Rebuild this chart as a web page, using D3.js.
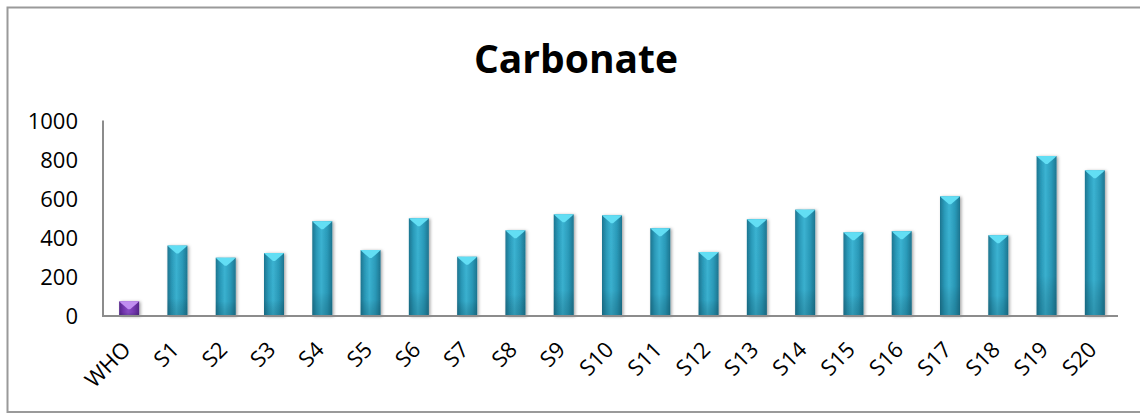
<!DOCTYPE html>
<html>
<head>
<meta charset="utf-8">
<script src="https://cdn.jsdelivr.net/npm/d3@7"></script>
<style>
  html, body { margin: 0; padding: 0; background: #fff; }
  svg { display: block; }
</style>
</head>
<body>
<svg id="chart" width="1140" height="414"></svg>
<script>
// Carbonate concentration per sample, with the WHO guideline value first
const categories = ["WHO", "S1", "S2", "S3", "S4", "S5", "S6", "S7", "S8", "S9", "S10",
  "S11", "S12", "S13", "S14", "S15", "S16", "S17", "S18", "S19", "S20"];
const values = [75, 360, 298, 322, 485, 337, 500, 303, 438, 520, 515,
  449, 327, 495, 544, 428, 434, 612, 413, 818, 745];
const yTicks = [0, 200, 400, 600, 800, 1000];
const title = "Carbonate";

const svg = d3.select("#chart");
const font = "'Open Sans', 'Noto Sans', sans-serif";

// outer chart frame (right edge runs past the page)
svg.append("rect")
  .attr("x", 7.5).attr("y", 7.5)
  .attr("width", 1140).attr("height", 404.5)
  .attr("fill", "#fff")
  .attr("stroke", "#9a9a9a").attr("stroke-width", 2);

const x = d3.scaleBand()
  .domain(categories)
  .range([105, 1119])
  .paddingInner(0.586)
  .paddingOuter(0.293);

const y = d3.scaleLinear().domain([0, 1000]).range([316, 120.5]);

const defs = svg.append("defs");

// cylinder-like shading for each bar colour
function barGradient(id, edge, mid, light) {
  const g = defs.append("linearGradient").attr("id", id)
    .attr("x1", "0%").attr("x2", "100%").attr("y1", "0%").attr("y2", "0%");
  g.append("stop").attr("offset", "0%").attr("stop-color", edge);
  g.append("stop").attr("offset", "22%").attr("stop-color", mid);
  g.append("stop").attr("offset", "45%").attr("stop-color", light);
  g.append("stop").attr("offset", "75%").attr("stop-color", mid);
  g.append("stop").attr("offset", "100%").attr("stop-color", edge);
}
barGradient("gTeal", "#1d7590", "#2a9ab9", "#3bb3d2");
barGradient("gPurple", "#55238a", "#7436b0", "#8a4cc6");

// darker base towards the bottom of each bar
const fade = defs.append("linearGradient").attr("id", "gFade")
  .attr("x1", "0%").attr("x2", "0%").attr("y1", "0%").attr("y2", "100%");
fade.append("stop").attr("offset", "0%").attr("stop-color", "#000").attr("stop-opacity", 0);
fade.append("stop").attr("offset", "75%").attr("stop-color", "#000").attr("stop-opacity", 0.02);
fade.append("stop").attr("offset", "100%").attr("stop-color", "#0a4050").attr("stop-opacity", 0.25);

const shadow = defs.append("filter").attr("id", "shadow")
  .attr("x", "-50%").attr("y", "-20%").attr("width", "200%").attr("height", "140%");
shadow.append("feDropShadow")
  .attr("dx", 1.5).attr("dy", 0.5).attr("stdDeviation", 1.6)
  .attr("flood-color", "#000").attr("flood-opacity", 0.35);

const bars = svg.append("g").selectAll("g.bar")
  .data(categories.map((c, i) => ({ c, v: values[i], who: c === "WHO" })))
  .join("g").attr("class", "bar");

bars.append("rect")
  .attr("x", d => x(d.c))
  .attr("y", d => y(d.v))
  .attr("width", x.bandwidth())
  .attr("height", d => y(0) - y(d.v))
  .attr("fill", d => d.who ? "url(#gPurple)" : "url(#gTeal)")
  .attr("filter", "url(#shadow)");

bars.append("rect")
  .attr("x", d => x(d.c))
  .attr("y", d => y(d.v))
  .attr("width", x.bandwidth())
  .attr("height", d => y(0) - y(d.v))
  .attr("fill", "url(#gFade)");

// bevelled top highlight
bars.append("path")
  .attr("d", d => {
    const x0 = x(d.c), x1 = x0 + x.bandwidth(), t = y(d.v), cx = x0 + x.bandwidth() / 2;
    return `M${x0},${t} L${x1},${t} L${x1 - 2},${t + 2} L${cx + 1},${t + 8} L${cx - 1},${t + 8} L${x0 + 2},${t + 2} Z`;
  })
  .attr("fill", d => d.who ? "#c08ef0" : "#62def4");

// axes
const axisColor = "#8c8c8c";
svg.append("line")
  .attr("x1", 103).attr("x2", 103)
  .attr("y1", y(1000)).attr("y2", y(0) + 1)
  .attr("stroke", axisColor).attr("stroke-width", 2);
svg.append("line")
  .attr("x1", 102).attr("x2", 1118)
  .attr("y1", y(0)).attr("y2", y(0))
  .attr("stroke", axisColor).attr("stroke-width", 2);

const yAxis = d3.axisLeft(y).tickValues(yTicks).tickFormat(d3.format("d"))
  .tickSize(0).tickPadding(0);
const yg = svg.append("g").attr("transform", "translate(78,0)").call(yAxis);
yg.select(".domain").remove();
yg.selectAll("text")
  .attr("font-family", font).attr("font-size", 22)
  .attr("fill", "#000").attr("dy", "0.36em");

const xAxis = d3.axisBottom(x).tickSize(0).tickPadding(0);
const xg = svg.append("g").attr("transform", `translate(0,${y(0)})`).call(xAxis);
xg.select(".domain").remove();
xg.selectAll("text")
  .attr("font-family", font).attr("font-size", 22)
  .attr("fill", "#000")
  .attr("text-anchor", "end")
  .attr("y", 0).attr("dy", 0)
  .attr("transform", "translate(3,35) rotate(-45)");

svg.append("text")
  .attr("x", 576).attr("y", 73)
  .attr("text-anchor", "middle")
  .attr("font-family", font).attr("font-weight", "bold")
  .attr("font-size", 39)
  .attr("fill", "#000")
  .text(title);
</script>
</body>
</html>
